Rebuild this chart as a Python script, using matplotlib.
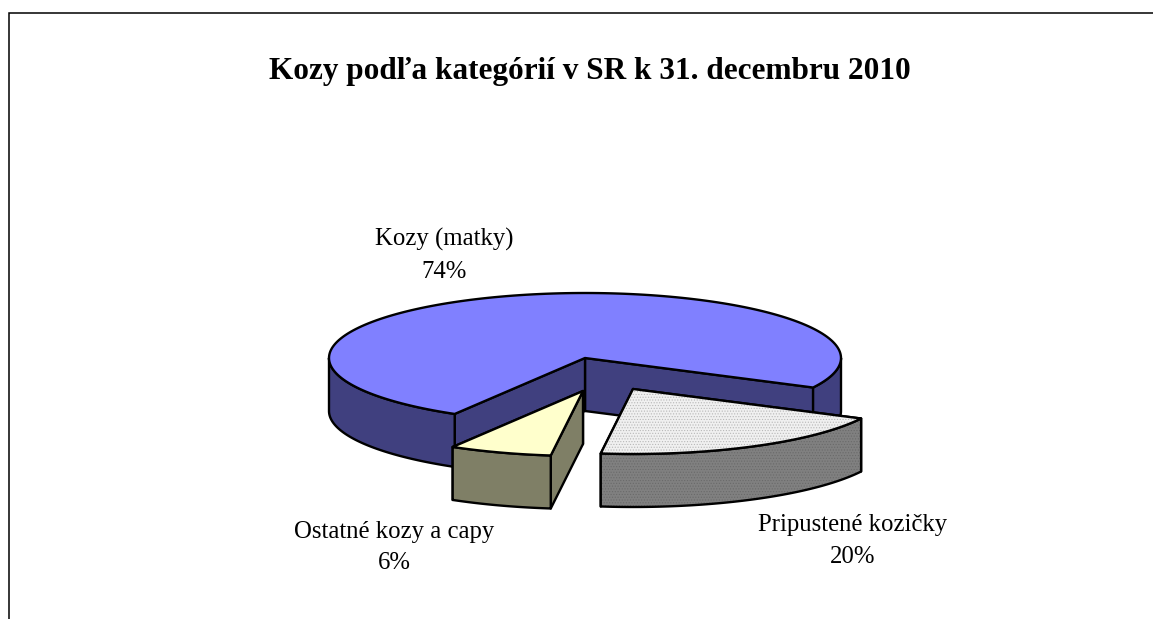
import numpy as np
import matplotlib
matplotlib.use("Agg")
import matplotlib.pyplot as plt
from matplotlib.patches import Polygon

plt.rcParams['font.family'] = ['Liberation Serif', 'DejaVu Serif']
plt.rcParams['hatch.linewidth'] = 0.5

title = "Kozy podľa kategórií v SR k 31. decembru 2010"
categories = ["Kozy (matky)", "Ostatné kozy a capy", "Pripustené kozičky"]
shares = [74.0, 6.49, 19.51]

top_colors = ["#8080FF", "#FFFFCC", "#F0F0F0"]
side_colors = ["#40407F", "#7F7F66", "#808080"]
stipple = [None, None, "#B8B8B8"]
stipple_side = [None, None, "#6A6A6A"]
offsets = [(0, 0), (-2, 33), (48, 31)]
label_pos = [(444, 255.5), (394, 547.5), (853, 541)]

W, H = 1153, 619
CX, CY, RX, RY, DEPTH = 585, 358, 256, 65, 53
START = -27.0  # first slice's starting parameter angle

fig = plt.figure(figsize=(W / 100, H / 100), dpi=100)
ax = fig.add_axes([0, 0, 1, 1])
ax.set_xlim(0, W)
ax.set_ylim(H, 0)
ax.axis('off')

ax.plot([9, 9, W], [H, 13, 13], color='black', lw=1.1, solid_joinstyle='miter')
ax.text(590, 71, title, ha='center', va='center', fontsize=22.5, fontweight='bold')


def arc(cx, cy, a0, a1, dy=0):
    t = np.radians(np.linspace(a0, a1, 181))
    return np.column_stack([cx + RX * np.cos(t), cy - RY * np.sin(t) + dy])


def patch(pts, fc, z, hatch=None, hc=None):
    if hatch:
        ax.add_patch(Polygon(pts, closed=True, facecolor=fc, edgecolor=hc, hatch=hatch, lw=0, zorder=z))
        ax.add_patch(Polygon(pts, closed=True, fill=False, edgecolor='black', lw=1.7, zorder=z, joinstyle='round'))
    else:
        ax.add_patch(Polygon(pts, closed=True, facecolor=fc, edgecolor='black', lw=1.7, zorder=z, joinstyle='round'))


def draw_slice(a0, a1, top, side, off, z, st, st_side):
    """a0 -> a1 runs counter-clockwise on screen."""
    cx, cy = CX + off[0], CY + off[1]
    c = np.array([[cx, cy]])
    cb = np.array([[cx, cy + DEPTH]])
    # cut walls
    for a in (a0, a1):
        e = arc(cx, cy, a, a, 0)[:1]
        eb = e + [0, DEPTH]
        patch(np.vstack([c, e, eb, cb]), side, z, '......' if st_side else None, st_side)
    # outer rim: only the part facing the viewer (lower half of the ellipse)
    for k in range(-1, 2):
        lo, hi = max(a0, 180 + 360 * k), min(a1, 360 + 360 * k)
        if lo < hi:
            upper = arc(cx, cy, lo, hi)
            lower = arc(cx, cy, lo, hi, DEPTH)
            patch(np.vstack([upper, lower[::-1]]), side, z + 0.1, '......' if st_side else None, st_side)
    # top face
    patch(np.vstack([c, arc(cx, cy, a0, a1)]), top, z + 0.2, '......' if st else None, st)


total = sum(shares)
angle = START
for i, v in enumerate(shares):
    sweep = 360 * v / total
    draw_slice(angle, angle + sweep, top_colors[i], side_colors[i], offsets[i], 2 + i,
               stipple[i], stipple_side[i])
    angle += sweep

for name, v, (x, y) in zip(categories, shares, label_pos):
    ax.text(x, y, f"{name}\n{round(v)}%", ha='center', va='center', fontsize=17.8, linespacing=1.54)

fig.savefig('out.png', dpi=100)
